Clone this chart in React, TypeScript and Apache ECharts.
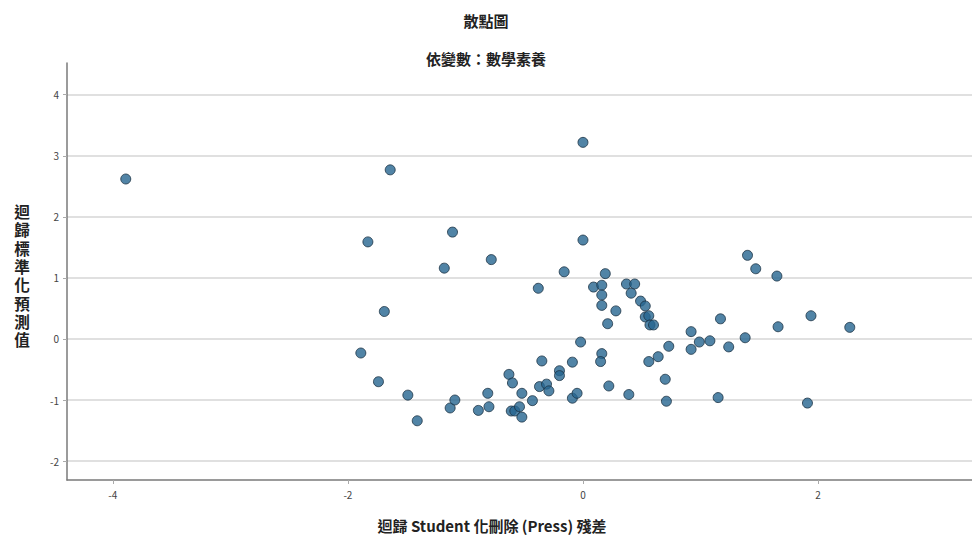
import React, { useEffect, useRef } from "react";
import * as echarts from "echarts";

const titleText = "散點圖";
const subtitleText = "依變數：數學素養";
const xAxisName = "迴歸 Student 化刪除 (Press) 殘差";
const yAxisName = "迴歸標準化預測值";

const xTicks = [-4, -2, 0, 2];
const yTicks = [-2, -1, 0, 1, 2, 3, 4];

const residuals = [
  -3.89, 0.0, -1.64, -1.83, -1.11, 0.0, -1.18, -0.78, -0.16, 0.19,
  -0.38, 0.09, 0.16, 0.16, 0.37, 0.44, 0.41, 0.16, 0.28, 0.49,
  0.53, 0.53, 0.56, 0.57, 0.6, 0.21, -1.69, -1.89, -0.02, 0.16,
  0.15, 0.56, 0.64, 0.73, -1.74, -1.49, -1.41, -1.13, -1.09, -0.89,
  -0.8, -0.81, -0.63, -0.6, -0.61, -0.58, -0.54, -0.52, -0.52, -0.43,
  -0.35, -0.37, -0.31, -0.29, -0.2, -0.2, -0.09, -0.09, -0.05, 0.22,
  0.39, 0.7, 0.71, 0.92, 0.92, 0.99, 1.08, 1.17, 1.24, 1.38,
  1.15, 1.4, 1.47, 1.65, 1.66, 1.94, 1.91, 2.27,
];

const predicted = [
  2.62, 3.22, 2.77, 1.59, 1.75, 1.62, 1.16, 1.3, 1.1, 1.07,
  0.83, 0.85, 0.88, 0.72, 0.9, 0.9, 0.75, 0.55, 0.46, 0.62,
  0.54, 0.36, 0.38, 0.23, 0.23, 0.25, 0.45, -0.23, -0.05, -0.24,
  -0.37, -0.37, -0.29, -0.12, -0.7, -0.92, -1.34, -1.13, -1.0, -1.17,
  -1.11, -0.89, -0.58, -0.72, -1.18, -1.18, -1.11, -1.28, -0.89, -1.01,
  -0.36, -0.78, -0.74, -0.85, -0.52, -0.6, -0.38, -0.97, -0.89, -0.77,
  -0.91, -0.66, -1.02, 0.12, -0.17, -0.05, -0.03, 0.33, -0.13, 0.02,
  -0.96, 1.37, 1.15, 1.03, 0.2, 0.38, -1.05, 0.19,
];

const FONT = '"Noto Sans CJK TC", "Noto Sans", sans-serif';

export default function App() {
  const ref = useRef<HTMLDivElement>(null);

  useEffect(() => {
    if (!ref.current) return;
    const chart = echarts.init(ref.current, undefined, { renderer: "svg" });
    const data = residuals.map((x, i) => [x, predicted[i]]);
    const yNameChars = yAxisName.split("").map((ch, i) => ({
      type: "text",
      x: 22,
      y: 211 + i * 18.3,
      style: {
        text: ch,
        fontFamily: FONT,
        fontSize: 12.5,
        fontWeight: "bold",
        lineHeight: 14,
        fill: "#222",
        align: "center",
        verticalAlign: "middle",
      },
      scaleX: 1.25,
      scaleY: 1.25,
    }));
    chart.setOption({
      animation: false,
      backgroundColor: "#ffffff",
      title: [
        {
          text: titleText,
          left: "center",
          top: 8,
          textStyle: { fontFamily: FONT, fontSize: 15, fontWeight: "bold", color: "#222" },
        },
        {
          text: subtitleText,
          left: "center",
          top: 46,
          textStyle: { fontFamily: FONT, fontSize: 15, fontWeight: "bold", color: "#222" },
        },
      ],
      grid: { left: 67, right: 0, top: 63, bottom: 59, containLabel: false },
      xAxis: {
        type: "value",
        min: -4.39,
        max: 3.31,
        axisLine: { show: true, onZero: false, lineStyle: { color: "#7a7a7a", width: 1.5 } },
        axisTick: { show: true, length: 4, customValues: xTicks, lineStyle: { color: "#aaa" } },
        axisLabel: {
          customValues: xTicks,
          margin: 9,
          fontFamily: FONT,
          fontSize: 10,
          color: "#444",
        },
        splitLine: { show: false },
      },
      yAxis: {
        type: "value",
        min: -2.31,
        max: 4.52,
        axisLine: { show: true, onZero: false, lineStyle: { color: "#7a7a7a", width: 1.5 } },
        axisTick: { show: true, length: 4, customValues: yTicks, lineStyle: { color: "#aaa" } },
        axisLabel: {
          customValues: yTicks,
          margin: 8,
          fontFamily: FONT,
          fontSize: 10,
          color: "#444",
        },
        splitLine: { show: true, lineStyle: { color: "#d6d6d6", width: 1.5 } },
      },
      graphic: [
        ...yNameChars,
        {
          type: "text",
          x: 492,
          y: 525,
          style: {
            text: xAxisName,
            font: `bold 15px ${FONT}`,
            fill: "#222",
            align: "center",
            verticalAlign: "middle",
          },
        },
      ],
      series: [
        {
          type: "scatter",
          data,
          symbol: "circle",
          symbolSize: 10,
          itemStyle: { color: "#266590", borderColor: "#1b3244", borderWidth: 1 },
        },
      ],
    });
    return () => chart.dispose();
  }, []);

  return <div ref={ref} style={{ width: 972, height: 539, position: "absolute", left: 0, top: 0 }} />;
}
